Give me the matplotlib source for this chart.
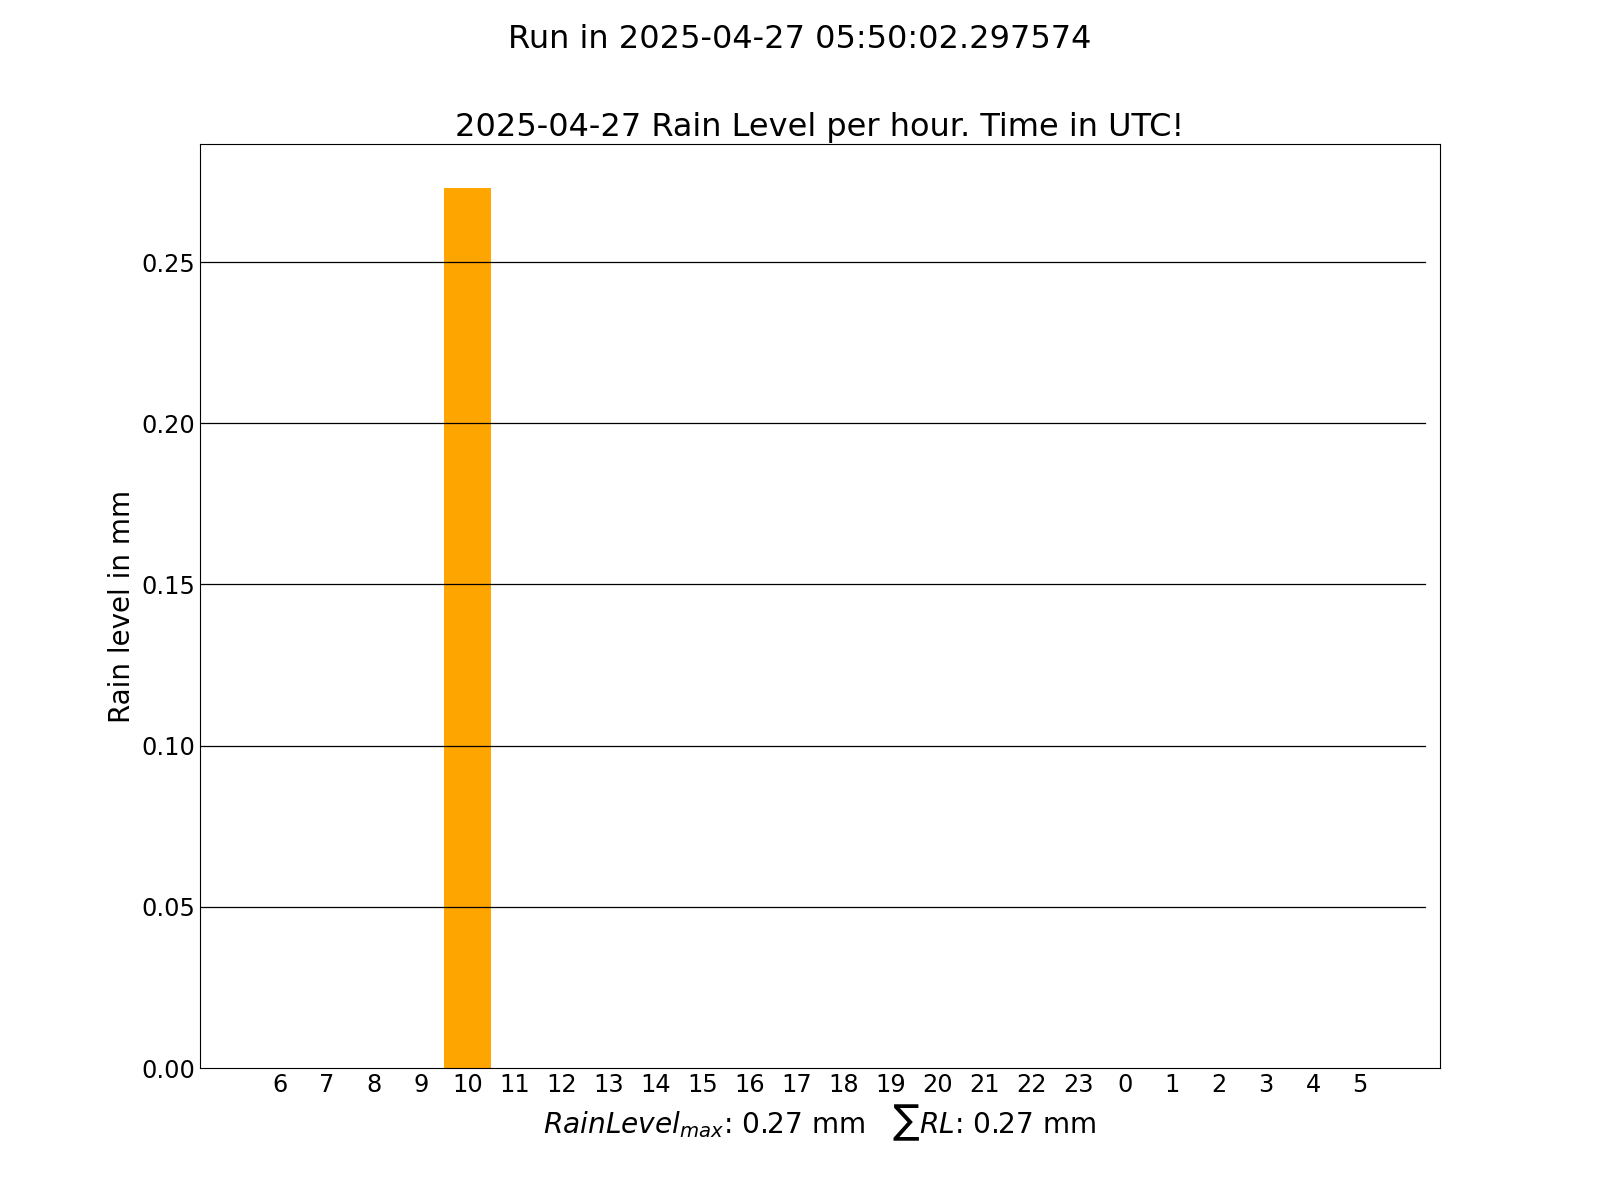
import matplotlib
matplotlib.use('Agg')
import matplotlib.pyplot as plt

run_stamp = '2025-04-27 05:50:02.297574'
day = '2025-04-27'
hours = [6, 7, 8, 9, 10, 11, 12, 13, 14, 15, 16, 17, 18, 19, 20, 21, 22, 23,
         0, 1, 2, 3, 4, 5]
rain = [0, 0, 0, 0, 0.273, 0, 0, 0, 0, 0, 0, 0, 0, 0, 0, 0, 0, 0,
        0, 0, 0, 0, 0, 0]
rain_max = 0.27
rain_sum = 0.27

fig = plt.figure(figsize=(16, 12), dpi=100)
ax = fig.add_subplot(111)
pos = list(range(len(hours)))
ax.bar(pos, rain, width=1, color='orange')
ax.set_xticks(pos)
ax.set_xticklabels([str(h) for h in hours])
ax.tick_params(axis='both', length=0, labelsize=17.3)

for y in ax.get_yticks():
    if 0 < y <= ax.get_ylim()[1]:
        ax.axhline(y, xmin=0, xmax=0.988, color='black', linewidth=0.9)

ax.set_ylabel('Rain level in mm', fontsize=20)
ax.set_xlabel(r'$RainLevel_{max}$: %.2f mm   $\sum RL$: %.2f mm' % (rain_max, rain_sum),
              fontsize=20.2)
ax.set_title(day + ' Rain Level per hour. Time in UTC!', fontsize=23)
fig.suptitle('Run in ' + run_stamp, fontsize=23)

plt.savefig('out.png')
